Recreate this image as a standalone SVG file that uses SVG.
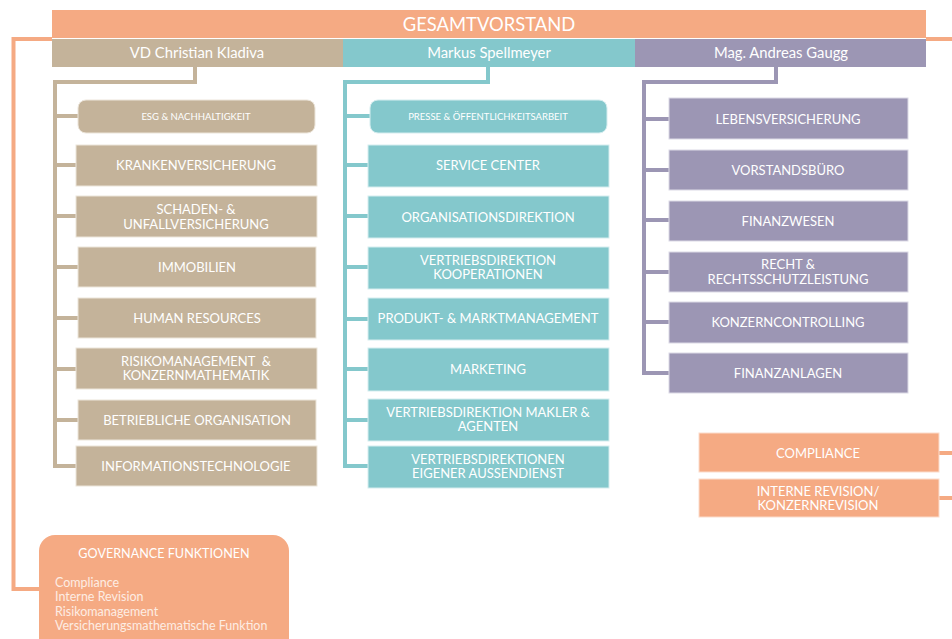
<svg xmlns="http://www.w3.org/2000/svg" width="952" height="639" viewBox="0 0 952 639">
<style>
  .t{font-family:Lato,"Open Sans","Liberation Sans",sans-serif;fill:#fff;text-anchor:middle}
  .bx{font-size:13px}
  .sm{font-size:9.5px}
  .hd{font-size:14.8px}
  .br{fill:#C4B39A;stroke:#ECE5DA;stroke-width:1}
  .tl{fill:#84C8CC;stroke:#D5EDEF;stroke-width:1}
  .pu{fill:#9C96B4;stroke:#DCDAE6;stroke-width:1}
  .or{fill:#F5AA83;stroke:#FBDCCB;stroke-width:1}
  .cb{fill:none;stroke:#C4B39A;stroke-width:4}
  .ct{fill:none;stroke:#84C8CC;stroke-width:4}
  .cp{fill:none;stroke:#9C96B4;stroke-width:4}
  .co{fill:none;stroke:#F5AA83;stroke-width:4}
</style>
<g id="connectors">
  <path class="co" d="M52,39 H13.5 V589 H40"/>
  <path class="co" d="M926,39 H952"/>
  <path class="co" d="M938,453 H952"/>
  <path class="co" d="M938,498 H952"/>
  <path class="cb" d="M195,67 V82 H55 V466 H76"/>
  <path class="cb" d="M55,116 H78 M55,165 H76 M55,216 H76 M55,267 H78 M55,318 H78 M55,369 H76 M55,420 H78"/>
  <path class="ct" d="M488,67 V82 H345 V466 H368"/>
  <path class="ct" d="M345,116 H370 M345,165 H368 M345,216 H368 M345,267 H368 M345,319 H368 M345,369 H368 M345,420 H368"/>
  <path class="cp" d="M776,67 V82 H644 V373 H669"/>
  <path class="cp" d="M644,119 H669 M644,170 H669 M644,220 H669 M644,272 H669 M644,322 H669"/>
</g>
<g id="gesamtvorstand">
  <rect x="52" y="10" width="874" height="28" fill="#F5AA83"/>
  <text class="t" x="489" y="31" font-size="18.4">GESAMTVORSTAND</text>
</g>
<g id="kladiva">
  <rect x="52" y="39" width="291" height="28" fill="#C4B39A"/>
  <text class="t hd" x="197" y="58">VD Christian Kladiva</text>
</g>
<g id="spellmeyer">
  <rect x="343" y="39" width="292" height="28" fill="#84C8CC"/>
  <text class="t hd" x="489" y="58">Markus Spellmeyer</text>
</g>
<g id="gaugg">
  <rect x="635" y="39" width="291" height="28" fill="#9C96B4"/>
  <text class="t hd" x="781" y="58">Mag. Andreas Gaugg</text>
</g>
<!-- brown column -->
<g id="esg"><rect class="br" x="78" y="100" width="237" height="33" rx="8"/><text class="t sm" x="196" y="119.5">ESG &amp; NACHHALTIGKEIT</text></g>
<g id="kranken"><rect class="br" x="76" y="145" width="241" height="41"/><text class="t bx" x="196" y="170">KRANKENVERSICHERUNG</text></g>
<g id="schaden"><rect class="br" x="76" y="196" width="241" height="41"/><text class="t bx" x="196" y="214"><tspan x="196">SCHADEN- &amp;</tspan><tspan x="196" dy="14.5">UNFALLVERSICHERUNG</tspan></text></g>
<g id="immobilien"><rect class="br" x="78" y="247" width="238" height="40"/><text class="t bx" x="197" y="271.5">IMMOBILIEN</text></g>
<g id="hr"><rect class="br" x="78" y="298" width="238" height="40"/><text class="t bx" x="197" y="322.5">HUMAN RESOURCES</text></g>
<g id="risiko"><rect class="br" x="76" y="348" width="241" height="41"/><text class="t bx" x="196" y="365.5"><tspan x="196">RISIKOMANAGEMENT &#160;&amp;</tspan><tspan x="196" dy="14.5">KONZERNMATHEMATIK</tspan></text></g>
<g id="betrieb"><rect class="br" x="78" y="400" width="238" height="40"/><text class="t bx" x="197" y="424.5">BETRIEBLICHE ORGANISATION</text></g>
<g id="it"><rect class="br" x="76" y="446" width="241" height="40"/><text class="t bx" x="196" y="471">INFORMATIONSTECHNOLOGIE</text></g>
<!-- teal column -->
<g id="presse"><rect class="tl" x="370" y="100" width="237" height="33" rx="8"/><text class="t sm" x="488" y="119.5">PRESSE &amp; ÖFFENTLICHKEITSARBEIT</text></g>
<g id="service"><rect class="tl" x="368" y="145" width="241" height="42"/><text class="t bx" x="488" y="170">SERVICE CENTER</text></g>
<g id="orga"><rect class="tl" x="368" y="196" width="241" height="42"/><text class="t bx" x="488" y="221.5">ORGANISATIONSDIREKTION</text></g>
<g id="koop"><rect class="tl" x="368" y="247" width="241" height="42"/><text class="t bx" x="488" y="264.5"><tspan x="488">VERTRIEBSDIREKTION</tspan><tspan x="488" dy="14.5">KOOPERATIONEN</tspan></text></g>
<g id="produkt"><rect class="tl" x="368" y="298" width="241" height="42"/><text class="t bx" x="488" y="323">PRODUKT- &amp; MARKTMANAGEMENT</text></g>
<g id="marketing"><rect class="tl" x="368" y="348" width="241" height="43"/><text class="t bx" x="488" y="373.5">MARKETING</text></g>
<g id="makler"><rect class="tl" x="368" y="399" width="241" height="42"/><text class="t bx" x="488" y="416.5"><tspan x="488">VERTRIEBSDIREKTION MAKLER &amp;</tspan><tspan x="488" dy="14.5">AGENTEN</tspan></text></g>
<g id="eigener"><rect class="tl" x="368" y="446" width="241" height="42"/><text class="t bx" x="488" y="463.5"><tspan x="488">VERTRIEBSDIREKTIONEN</tspan><tspan x="488" dy="14.5">EIGENER AUSSENDIENST</tspan></text></g>
<!-- purple column -->
<g id="leben"><rect class="pu" x="669" y="98" width="239" height="41"/><text class="t bx" x="788" y="123.5">LEBENSVERSICHERUNG</text></g>
<g id="vorstandsbuero"><rect class="pu" x="669" y="150" width="239" height="40"/><text class="t bx" x="788" y="174.5">VORSTANDSBÜRO</text></g>
<g id="finanzwesen"><rect class="pu" x="669" y="201" width="239" height="40"/><text class="t bx" x="788" y="225.5">FINANZWESEN</text></g>
<g id="recht"><rect class="pu" x="669" y="252" width="239" height="40"/><text class="t bx" x="788" y="269"><tspan x="788">RECHT &amp;</tspan><tspan x="788" dy="14.5">RECHTSSCHUTZLEISTUNG</tspan></text></g>
<g id="konzerncontrolling"><rect class="pu" x="669" y="302" width="239" height="41"/><text class="t bx" x="788" y="327">KONZERNCONTROLLING</text></g>
<g id="finanzanlagen"><rect class="pu" x="669" y="353" width="239" height="40"/><text class="t bx" x="788" y="378">FINANZANLAGEN</text></g>
<!-- orange -->
<g id="compliance"><rect class="or" x="699" y="433" width="240" height="39"/><text class="t bx" x="818" y="457.5">COMPLIANCE</text></g>
<g id="revision"><rect class="or" x="699" y="479" width="240" height="38"/><text class="t bx" x="818" y="495.5"><tspan x="818">INTERNE REVISION/</tspan><tspan x="818" dy="14.5">KONZERNREVISION</tspan></text></g>
<g id="governance">
  <rect x="39" y="535" width="250" height="120" rx="16" fill="#F5AA83"/>
  <text class="t" x="164" y="557.5" font-size="12.6">GOVERNANCE FUNKTIONEN</text>
  <text font-family="Lato,'Open Sans','Liberation Sans',sans-serif" font-size="12.5" fill="#FDEDE3" x="55" y="587"><tspan x="55">Compliance</tspan><tspan x="55" dy="14.3">Interne Revision</tspan><tspan x="55" dy="14.3">Risikomanagement</tspan><tspan x="55" dy="14.3">Versicherungsmathematische Funktion</tspan></text>
</g>
</svg>
